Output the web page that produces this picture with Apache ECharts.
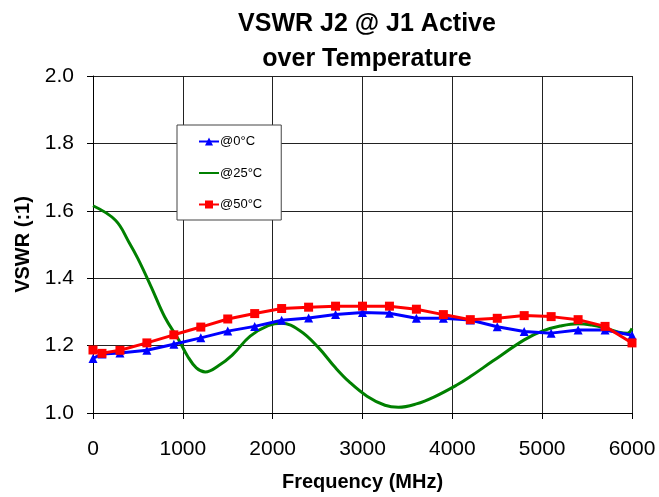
<!DOCTYPE html>
<html>
<head>
<meta charset="utf-8">
<script src="https://cdn.jsdelivr.net/npm/echarts@6/dist/echarts.min.js"></script>
<style>
  html, body { margin: 0; padding: 0; background: #fff; }
  #chart { width: 659px; height: 497px; }
</style>
</head>
<body>
<div id="chart"></div>
<script>
// frequency points (MHz) for the marker series
const freqs = [0, 100, 300, 600, 900, 1200, 1500, 1800, 2100, 2400, 2700, 3000,
  3300, 3600, 3900, 4200, 4500, 4800, 5100, 5400, 5700, 6000];

const vswr0 = [1.162, 1.175, 1.178, 1.186, 1.204, 1.223, 1.243, 1.257, 1.275, 1.282, 1.292, 1.298,
  1.296, 1.281, 1.281, 1.276, 1.256, 1.242, 1.237, 1.246, 1.246, 1.231];

const vswr50 = [1.187, 1.177, 1.186, 1.208, 1.232, 1.255, 1.279, 1.295, 1.310, 1.314, 1.317, 1.317,
  1.317, 1.308, 1.292, 1.277, 1.281, 1.289, 1.286, 1.277, 1.257, 1.208];

const freqs25 = [0, 250, 400, 500, 650, 800, 950, 1050, 1150, 1250, 1400, 1550, 1750, 1950, 2100,
  2300, 2500, 2700, 2850, 3050, 3250, 3400, 3600, 3800, 4050, 4200, 4450, 4800, 5000, 5200,
  5400, 5550, 5700, 5850, 5950, 6000];
const vswr25 = [1.615, 1.572, 1.507, 1.458, 1.373, 1.284, 1.219, 1.170, 1.134, 1.122, 1.141, 1.172, 1.228, 1.259, 1.266,
  1.245, 1.197, 1.134, 1.093, 1.050, 1.023, 1.017, 1.027, 1.048, 1.083, 1.108, 1.154, 1.217, 1.243, 1.258,
  1.265, 1.261, 1.252, 1.240, 1.237, 1.251];

const names = ['@0°C', '@25°C', '@50°C'];

function pairs(xs, ys) {
  return xs.map((x, i) => [x, ys[i]]);
}

const chart = echarts.init(document.getElementById('chart'));
const font = 'Liberation Sans, Arial, sans-serif';

chart.setOption({
  animation: false,
  title: {
    text: 'VSWR J2 @ J1 Active\nover Temperature',
    left: 362,
    textAlign: 'center',
    top: 2,
    textStyle: { fontFamily: font, fontSize: 25, fontWeight: 'bold', color: '#000', lineHeight: 35 }
  },
  legend: {
    data: [
      { name: names[0] },
      { name: names[1], itemStyle: { opacity: 0 } },
      { name: names[2] }
    ],
    orient: 'vertical',
    left: 177,
    top: 125,
    itemWidth: 20,
    itemHeight: 10,
    itemGap: 18.5,
    padding: [10, 19, 9, 21],
    backgroundColor: '#fff',
    borderColor: '#444',
    borderWidth: 1,
    textStyle: { fontFamily: font, fontSize: 13, color: '#000', padding: [0, 0, 0, -4] }
  },
  grid: { left: 93, right: 27, top: 76, bottom: 83 },
  xAxis: {
    type: 'value',
    min: 0,
    max: 6000,
    interval: 1000,
    name: 'Frequency (MHz)',
    nameLocation: 'middle',
    nameGap: 59,
    nameTextStyle: { fontFamily: font, fontSize: 20, fontWeight: 'bold', color: '#000' },
    axisLine: { lineStyle: { color: '#000', width: 1 } },
    axisTick: { show: true, length: 6, lineStyle: { color: '#000' } },
    axisLabel: { fontFamily: font, fontSize: 21, color: '#000', margin: 26, formatter: v => String(v) },
    splitLine: { show: true, lineStyle: { color: '#222', width: 1 } }
  },
  yAxis: {
    type: 'value',
    min: 1.0,
    max: 2.0,
    interval: 0.2,
    name: 'VSWR (:1)',
    nameLocation: 'middle',
    nameGap: 58,
    nameTextStyle: { fontFamily: font, fontSize: 20, fontWeight: 'bold', color: '#000' },
    axisLine: { show: true, lineStyle: { color: '#000', width: 1 } },
    axisTick: { show: true, length: 6, lineStyle: { color: '#000' } },
    axisLabel: { fontFamily: font, fontSize: 21, color: '#000', margin: 19, formatter: v => v.toFixed(1) },
    splitLine: { show: true, lineStyle: { color: '#222', width: 1 } }
  },
  series: [
    {
      name: names[0],
      type: 'line',
      data: pairs(freqs, vswr0),
      symbol: 'triangle',
      symbolSize: 9,
      color: '#0000ff',
      lineStyle: { width: 3, color: '#0000ff' },
      itemStyle: { color: '#0000ff' },
      z: 3
    },
    {
      name: names[1],
      type: 'line',
      data: pairs(freqs25, vswr25),
      symbol: 'none',
      smooth: 0.4,
      color: '#008000',
      lineStyle: { width: 3, color: '#008000' },
      z: 2
    },
    {
      name: names[2],
      type: 'line',
      data: pairs(freqs, vswr50),
      symbol: 'rect',
      symbolSize: 9,
      color: '#ff0000',
      lineStyle: { width: 3, color: '#ff0000' },
      itemStyle: { color: '#ff0000' },
      z: 4
    }
  ]
});
</script>
</body>
</html>
